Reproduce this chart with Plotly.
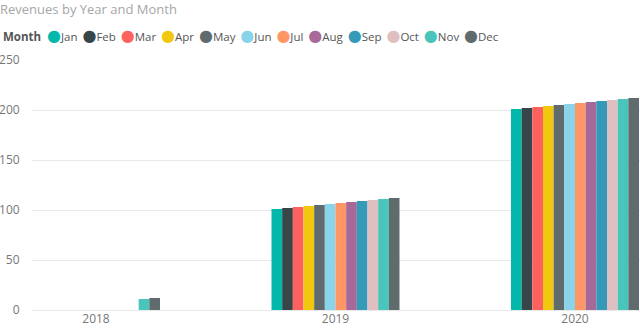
import plotly.graph_objects as go

# Revenue per month, grouped by year (None = no sales recorded that month)
years = ["2018", "2019", "2020"]
months = ["Jan", "Feb", "Mar", "Apr", "May", "Jun",
          "Jul", "Aug", "Sep", "Oct", "Nov", "Dec"]
revenue_2018 = [None, None, None, None, None, None, None, None, None, None, 11, 12]
revenue_2019 = [101, 102, 103, 104, 105, 106, 107, 108, 109, 110, 111, 112]
revenue_2020 = [201, 202, 203, 204, 205, 206, 207, 208, 209, 210, 211, 212]
month_colors = ["#01B8AA", "#374649", "#FD625E", "#F2C80F", "#5F6B6D", "#8AD4EB",
                "#FE9666", "#A66999", "#3599B8", "#DFBFBF", "#4AC5BB", "#5F6B6D"]
y_ticks = [0, 50, 100, 150, 200, 250]

W, H = 640, 328
ML, MR, MT, MB = 32, 0, 60, 18
FONT = "Open Sans, Noto Sans, DejaVu Sans, sans-serif"
GRID = "#e9e9e9"
TICK_COLOR = "#777777"

by_year = [revenue_2018, revenue_2019, revenue_2020]

fig = go.Figure()
for i, (m, c) in enumerate(zip(months, month_colors)):
    fig.add_trace(go.Bar(
        name=m,
        x=years,
        y=[yr[i] for yr in by_year],
        marker=dict(color=c, line=dict(width=0)),
        showlegend=False,
        hoverinfo="skip",
    ))

# Inline legend: "Month" heading followed by a coloured dot per month
gap = "\u00a0\u2009"
legend_parts = [f"<b>Month</b>\u00a0\u00a0"]
for m, c in zip(months, month_colors):
    legend_parts.append(
        f"<span style='color:{c};font-size:16px'>\u25cf</span>{m}{gap}"
    )
plot_w = W - ML - MR
plot_h = H - MT - MB
fig.add_annotation(
    text="".join(legend_parts),
    xref="paper", yref="paper",
    x=(1 - ML) / plot_w, y=1 + (MT - 35) / plot_h,
    xanchor="left", yanchor="middle",
    showarrow=False,
    font=dict(family=FONT, size=11.5, color="#555555"),
)

fig.update_layout(
    width=W, height=H,
    margin=dict(l=ML, r=MR, t=MT, b=MB, pad=0, autoexpand=False),
    paper_bgcolor="white",
    plot_bgcolor="white",
    barmode="group",
    bargap=0.4656,
    bargroupgap=0,
    hovermode=False,
    font=dict(family=FONT, size=12, color=TICK_COLOR),
    title=dict(
        text="Revenues by Year and Month",
        xref="container", yref="container",
        x=0, xanchor="left",
        y=1 - 9 / H, yanchor="middle",
        font=dict(family=FONT, size=13, color="#a6a6a6"),
        pad=dict(l=0, t=0, b=0, r=0),
        automargin=False,
    ),
    xaxis=dict(
        type="category",
        range=[-0.2672, 2.2714],
        automargin=False,
        showgrid=False,
        showline=False,
        zeroline=False,
        ticks="",
        tickfont=dict(family=FONT, size=12, color=TICK_COLOR),
        fixedrange=True,
    ),
    yaxis=dict(
        range=[0, 250],
        tickvals=y_ticks,
        automargin=False,
        showgrid=True, gridcolor=GRID, gridwidth=1,
        zeroline=True, zerolinecolor=GRID, zerolinewidth=1,
        showline=False,
        ticks="outside", ticklen=9, tickcolor="rgba(0,0,0,0)",
        tickfont=dict(family=FONT, size=12, color=TICK_COLOR),
        fixedrange=True,
    ),
)

fig.write_html("out.html", config={"displayModeBar": False})
